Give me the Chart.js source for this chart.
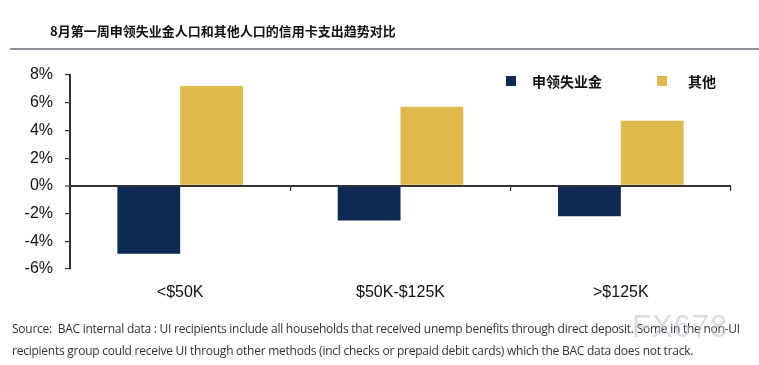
<!DOCTYPE html>
<html><head><meta charset="utf-8">
<script src="https://cdn.jsdelivr.net/npm/chart.js@4"></script>
<style>
html,body{margin:0;padding:0;background:#fff;}
#wrap{position:relative;width:759px;height:365px;overflow:hidden;}
#c{position:absolute;left:0;top:0;}
.t{position:absolute;white-space:nowrap;}
</style></head><body>
<div id="wrap">
<canvas id="c" width="759" height="365"></canvas>
<div class="t" id="title" style="left:50px;top:21px;font:bold 13px 'Noto Sans CJK SC';color:#111;">8月第一周申领失业金人口和其他人口的信用卡支出趋势对比</div>
<div style="position:absolute;left:10px;top:48px;width:749px;height:1.5px;background:#8b9099;"></div>
<div style="position:absolute;left:506px;top:76px;width:10px;height:10px;background:#0e2a54;"></div>
<div class="t" style="left:532px;top:72px;font:bold 14px 'Noto Sans CJK SC';color:#111;line-height:18px;">申领失业金</div>
<div style="position:absolute;left:657px;top:76px;width:10px;height:10px;background:#e0b94b;"></div>
<div class="t" style="left:688px;top:72px;font:bold 14px 'Noto Sans CJK SC';color:#111;line-height:18px;">其他</div>
<div class="t" style="left:12px;top:318px;font:12px 'Open Sans';color:#333;line-height:22px;letter-spacing:-0.25px;">Source:&nbsp; BAC internal data : UI recipients include all households that received unemp benefits through direct deposit. Some in the non-UI<br>recipients group could receive UI through other methods (incl checks or prepaid debit cards) which the BAC data does not track.</div>
<div class="t" style="left:632px;top:309px;font:31px 'Liberation Sans';color:rgba(190,196,208,0.6);letter-spacing:1px;">FX678</div>
</div>
<script>
const categories = ['<$50K', '$50K-$125K', '>$125K'];
const uiRecipients = [-4.9, -2.5, -2.2];
const others = [7.2, 5.7, 4.7];
const yTicks = [-6, -4, -2, 0, 2, 4, 6, 8];
const seriesNames = ['申领失业金', '其他'];

new Chart(document.getElementById('c'), {
  type: 'bar',
  data: {
    labels: categories,
    datasets: [
      {label: seriesNames[0], data: uiRecipients, backgroundColor: '#0e2a54', xAxisID: 'x', categoryPercentage: 0.57, barPercentage: 1},
      {label: seriesNames[1], data: others, backgroundColor: '#e0b94b', xAxisID: 'x', categoryPercentage: 0.57, barPercentage: 1}
    ]
  },
  options: {
    responsive: false,
    animation: false,
    layout: {padding: {left: 0, top: 75, right: 28, bottom: 56}},
    plugins: {legend: {display: false}, tooltip: {enabled: false}},
    scales: {
      x: {
        type: 'category',
        position: {y: 0},
        grid: {display: true, drawOnChartArea: false, drawTicks: true, tickLength: 5, color: '#333', lineWidth: 1.2, offset: true},
        border: {display: false},
        ticks: {display: false}
      },
      x2: {
        type: 'category',
        labels: categories,
        position: 'bottom',
        grid: {display: false, drawTicks: false},
        border: {display: false},
        ticks: {color: '#111', font: {family: 'Liberation Sans', size: 16}, padding: 14, maxRotation: 0},
        afterFit: s => { s.height = 40; }
      },
      y: {
        min: -6, max: 8,
        afterBuildTicks: s => { s.ticks = yTicks.map(v => ({value: v})); },
        grid: {
          display: true, drawOnChartArea: true, drawTicks: true, tickLength: 5,
          color: c => (c.tick && c.tick.value === 0) ? '#333' : 'rgba(0,0,0,0)',
          lineWidth: c => (c.tick && c.tick.value === 0) ? 2 : 1.2,
          tickColor: '#333', tickWidth: 1.2
        },
        border: {display: true, color: '#333', width: 2},
        ticks: {color: '#111', font: {family: 'Liberation Sans', size: 16}, padding: 12, callback: v => v + '%'},
        afterFit: s => { s.width = 70; }
      }
    }
  }
});
</script>
</body></html>
